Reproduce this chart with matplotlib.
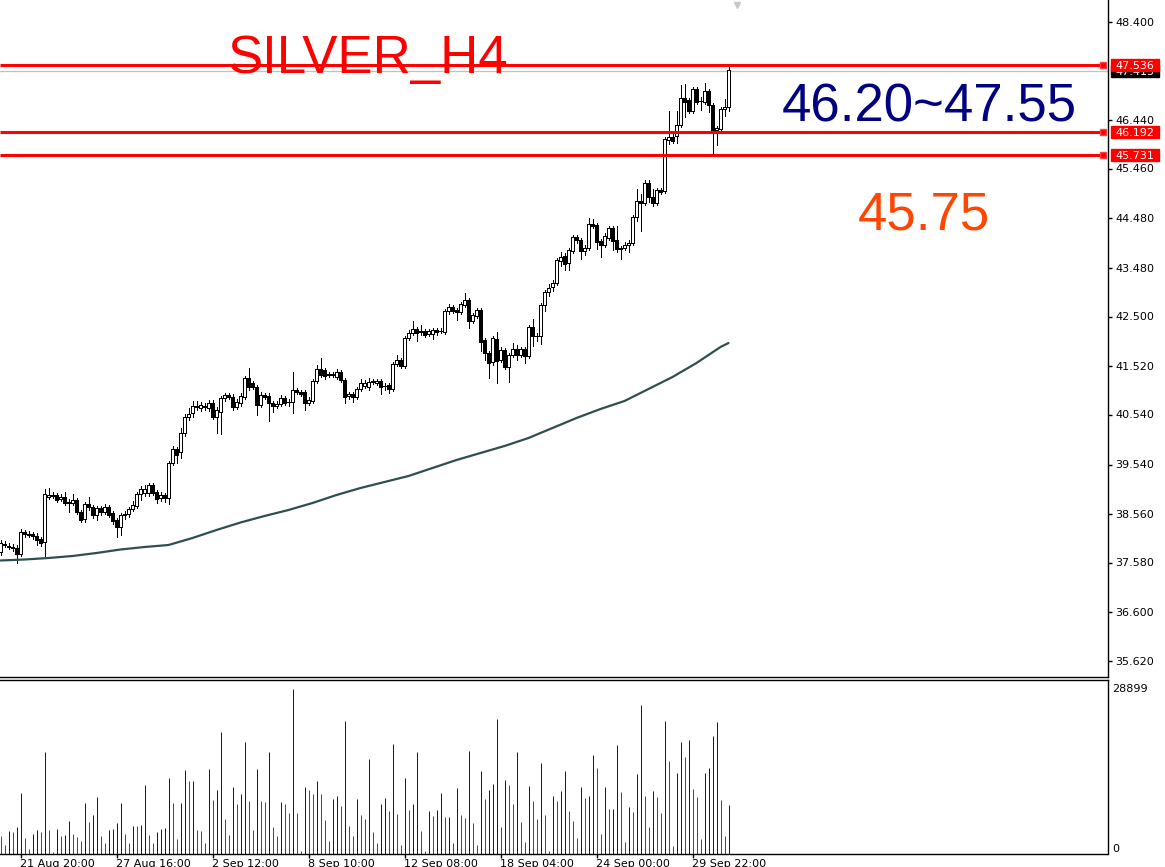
import matplotlib
matplotlib.use("Agg")
import matplotlib.pyplot as plt
import matplotlib.transforms as mtransforms
from matplotlib.patches import Rectangle
import numpy as np

# ---------------- data ----------------
opens = [37.79, 37.95, 37.92, 37.89, 37.87, 37.75, 38.19, 38.15, 38.15, 38.11,
         38.05, 37.99, 38.89, 38.93, 38.93, 38.85, 38.89, 38.79, 38.77, 38.83,
         38.59, 38.45, 38.75, 38.69, 38.53, 38.67, 38.59, 38.69, 38.57, 38.43,
         38.29, 38.54, 38.55, 38.65, 38.71, 38.95, 38.97, 38.97, 39.13, 38.99,
         38.87, 38.93, 38.87, 39.57, 39.85, 39.79, 40.17, 40.49, 40.57, 40.70,
         40.67, 40.70, 40.67, 40.77, 40.49, 40.59, 40.87, 40.93, 40.89, 40.69,
         40.77, 40.89, 41.27, 41.17, 41.09, 40.73, 40.93, 40.91, 40.77, 40.71,
         40.75, 40.87, 40.80, 40.79, 41.03, 40.99, 40.99, 40.77, 40.81, 41.21,
         41.45, 41.43, 41.34, 41.34, 41.29, 41.39, 41.23, 40.91, 40.95, 40.89,
         41.05, 41.11, 41.09, 41.20, 41.17, 41.21, 41.12, 41.13, 41.05, 41.55,
         41.63, 41.51, 42.07, 42.17, 42.25, 42.20, 42.21, 42.15, 42.15, 42.23,
         42.22, 42.19, 42.61, 42.69, 42.63, 42.59, 42.73, 42.83, 42.41, 42.51,
         42.63, 42.03, 41.77, 41.59, 42.05, 41.63, 41.83, 41.49, 41.73, 41.85,
         41.73, 41.85, 41.71, 42.29, 42.12, 42.11, 42.73, 42.99, 43.09, 43.17,
         43.61, 43.71, 43.57, 43.81, 44.09, 44.03, 43.81, 43.87, 44.35, 44.33,
         44.01, 43.93, 44.07, 44.27, 44.03, 43.87, 43.87, 43.93, 43.97, 44.49,
         44.81, 44.77, 45.17, 44.89, 44.77, 45.03, 45.01, 46.03, 46.09, 46.11,
         46.33, 46.87, 46.83, 46.61, 47.05, 46.82, 46.79, 47.01, 46.73, 46.23,
         46.25, 46.65, 46.69]

closes = [37.97, 37.93, 37.89, 37.87, 37.75, 38.19, 38.15, 38.14, 38.11, 38.03,
          37.97, 38.95, 38.93, 38.92, 38.83, 38.89, 38.77, 38.78, 38.83, 38.59,
          38.43, 38.75, 38.69, 38.53, 38.67, 38.59, 38.69, 38.53, 38.41, 38.29,
          38.53, 38.55, 38.65, 38.73, 38.95, 39.05, 39.05, 39.13, 38.97, 38.85,
          38.93, 38.87, 39.57, 39.85, 39.73, 40.17, 40.49, 40.55, 40.71, 40.69,
          40.73, 40.69, 40.77, 40.49, 40.63, 40.87, 40.93, 40.89, 40.69, 40.79,
          40.91, 41.27, 41.09, 41.09, 40.73, 40.93, 40.89, 40.77, 40.71, 40.75,
          40.87, 40.77, 40.79, 41.03, 40.99, 40.95, 40.77, 40.83, 41.21, 41.45,
          41.33, 41.31, 41.33, 41.33, 41.39, 41.23, 40.89, 40.95, 40.89, 41.05,
          41.17, 41.17, 41.19, 41.19, 41.21, 41.09, 41.11, 41.05, 41.55, 41.63,
          41.51, 42.07, 42.17, 42.25, 42.17, 42.19, 42.13, 42.21, 42.23, 42.19,
          42.21, 42.61, 42.69, 42.61, 42.59, 42.75, 42.83, 42.41, 42.53, 42.63,
          41.99, 41.77, 41.57, 42.07, 41.61, 41.83, 41.49, 41.73, 41.85, 41.73,
          41.85, 41.71, 42.29, 42.11, 42.11, 42.73, 42.99, 43.07, 43.17, 43.63,
          43.69, 43.55, 43.83, 44.09, 44.03, 43.81, 43.87, 44.35, 44.31, 43.99,
          43.93, 44.11, 44.27, 44.01, 43.85, 43.85, 43.93, 43.97, 44.49, 44.81,
          44.77, 45.17, 44.89, 44.77, 45.03, 44.99, 46.05, 46.09, 46.01, 46.33,
          46.87, 46.79, 46.61, 47.05, 46.79, 46.81, 47.01, 46.73, 46.23, 46.27,
          46.65, 46.69, 47.43]

highs = [38.03, 38.01, 37.97, 37.95, 37.93, 38.25, 38.23, 38.21, 38.19, 38.17,
         38.09, 39.05, 39.07, 38.99, 38.97, 38.95, 38.99, 38.85, 38.95, 38.87,
         38.63, 38.79, 38.89, 38.73, 38.71, 38.71, 38.75, 38.73, 38.61, 38.47,
         38.57, 38.61, 38.69, 38.81, 38.99, 39.11, 39.13, 39.17, 39.17, 39.03,
         38.99, 38.97, 39.61, 39.91, 39.89, 40.27, 40.55, 40.67, 40.81, 40.81,
         40.79, 40.77, 40.83, 40.83, 40.69, 40.91, 40.97, 40.97, 40.95, 40.85,
         40.97, 41.31, 41.47, 41.21, 41.13, 40.99, 40.97, 40.97, 40.81, 40.81,
         40.93, 40.91, 40.85, 41.39, 41.07, 41.03, 41.03, 40.89, 41.25, 41.53,
         41.67, 41.47, 41.39, 41.39, 41.45, 41.43, 41.27, 40.99, 40.99, 41.09,
         41.25, 41.23, 41.27, 41.25, 41.25, 41.25, 41.17, 41.17, 41.59, 41.73,
         41.67, 42.11, 42.23, 42.41, 42.29, 42.33, 42.25, 42.25, 42.27, 42.27,
         42.27, 42.65, 42.75, 42.73, 42.67, 42.79, 42.97, 42.87, 42.57, 42.67,
         42.67, 42.07, 41.81, 42.11, 42.19, 41.89, 41.87, 41.77, 41.97, 41.93,
         41.89, 41.89, 42.33, 42.45, 42.17, 42.77, 43.03, 43.15, 43.23, 43.67,
         43.79, 43.77, 43.87, 44.13, 44.13, 44.07, 43.93, 44.47, 44.45, 44.37,
         44.05, 44.17, 44.31, 44.31, 44.31, 43.91, 43.99, 44.03, 44.53, 45.05,
         44.95, 45.23, 45.23, 45.05, 45.07, 45.07, 46.09, 46.61, 46.15, 46.61,
         47.13, 47.15, 46.87, 47.09, 47.09, 46.89, 47.17, 47.05, 46.77, 46.31,
         46.69, 46.85, 47.54]

lows = [37.73, 37.89, 37.85, 37.81, 37.57, 37.71, 38.09, 38.09, 38.05, 37.93,
        37.91, 37.71, 38.85, 38.87, 38.79, 38.81, 38.73, 38.59, 38.73, 38.55,
        38.39, 38.39, 38.63, 38.47, 38.43, 38.53, 38.55, 38.49, 38.35, 38.09,
        38.13, 38.45, 38.49, 38.61, 38.67, 38.83, 38.91, 38.91, 38.93, 38.77,
        38.81, 38.79, 38.75, 39.53, 39.57, 39.67, 40.11, 40.43, 40.49, 40.63,
        40.61, 40.63, 40.61, 40.45, 40.17, 40.15, 40.81, 40.85, 40.63, 40.65,
        40.71, 40.85, 41.03, 41.05, 40.53, 40.69, 40.85, 40.41, 40.59, 40.67,
        40.71, 40.73, 40.71, 40.57, 40.95, 40.91, 40.63, 40.73, 40.77, 41.17,
        41.29, 41.25, 41.29, 41.29, 41.25, 41.19, 40.77, 40.85, 40.79, 40.85,
        41.01, 41.07, 41.03, 41.15, 41.13, 40.95, 41.03, 40.97, 41.01, 41.51,
        41.47, 41.47, 42.03, 42.13, 42.01, 42.13, 42.09, 42.11, 42.05, 42.13,
        42.17, 42.15, 42.55, 42.57, 42.43, 42.55, 42.69, 42.27, 42.37, 42.47,
        41.81, 41.63, 41.27, 41.53, 41.17, 41.59, 41.45, 41.19, 41.69, 41.63,
        41.69, 41.57, 41.67, 41.91, 42.01, 41.95, 42.61, 42.91, 43.01, 43.13,
        43.51, 43.43, 43.43, 43.77, 43.97, 43.65, 43.73, 43.83, 44.27, 43.85,
        43.69, 43.89, 44.03, 43.83, 43.79, 43.65, 43.83, 43.79, 43.93, 44.41,
        44.21, 44.73, 44.79, 44.71, 44.73, 44.95, 44.97, 45.95, 45.97, 45.97,
        46.29, 46.49, 46.57, 46.57, 46.75, 46.63, 46.75, 46.59, 45.77, 45.93,
        46.21, 46.51, 46.61]

volumes = [3150, 1520, 3970, 3800, 4670, 10620, 2750, 750, 3450, 4150,
           3800, 17800, 4150, 300, 4320, 3100, 3270, 5720, 3450, 2920,
           2220, 8870, 5550, 6770, 9920, 3100, 1870, 4150, 4320, 5370,
           8870, 3450, 1870, 4850, 4800, 5020, 12020, 3270, 1870, 3800,
           4320, 4500, 13250, 8870, 2570, 8870, 14650, 12720, 12800, 4150,
           3970, 1870, 14820, 9400, 11150, 21470, 6070, 3270, 11670, 8700,
           10450, 19550, 9220, 4150, 14820, 9220, 9150, 17800, 4670, 3100,
           9050, 8700, 7120, 28899, 7120, 470, 11670, 11150, 10450, 12720,
           10450, 5900, 2220, 9570, 10100, 8350, 23400, 4850, 3100, 9570,
           6770, 6070, 16570, 3800, 1870, 8700, 9750, 7470, 19370, 6950,
           1520, 13250, 7650, 8700, 17800, 3970, 470, 7470, 6600, 7650,
           10620, 6420, 6450, 1870, 11500, 6770, 6250, 17970, 5370, 1520,
           14470, 9570, 11150, 12200, 23750, 4670, 12900, 12020, 8700, 17800,
           5550, 2050, 11850, 9220, 6070, 15870, 6770, 470, 10100, 9220,
           10970, 14470, 7470, 5720, 2750, 11670, 9750, 10100, 17270, 15000,
           3450, 11670, 7820, 7850, 19020, 10800, 2050, 8170, 7300, 13950,
           26200, 10100, 4670, 10970, 9920, 7120, 23400, 16220, 1350, 14120,
           19720, 16920, 19900, 11320, 9920, 2570, 14120, 15000, 20770, 23220,
           9400, 3100, 8520]

ma_idx = [0, 6, 12, 18, 24, 30, 36, 42, 48, 54, 60, 66, 72, 78, 84, 90,
          96, 102, 108, 114, 120, 126, 132, 138, 144, 150, 156, 162, 168,
          174, 180, 182]
ma_vals = [37.62, 37.64, 37.67, 37.71, 37.77, 37.84, 37.89, 37.93, 38.07,
           38.23, 38.38, 38.51, 38.63, 38.77, 38.93, 39.07, 39.19, 39.31,
           39.47, 39.63, 39.77, 39.91, 40.07, 40.27, 40.47, 40.65, 40.81,
           41.05, 41.29, 41.57, 41.89, 41.97]

level_prices = [47.536, 46.192, 45.731]
level_labels = ["47.536", "46.192", "45.731"]
bid_price = 47.415
bid_label = "47.415"

price_ticks = [48.400, 46.440, 45.460, 44.480, 43.480, 42.500, 41.520,
               40.540, 39.540, 38.560, 37.580, 36.600, 35.620]
vol_max_label = "28899"

date_tick_idx = [5, 29, 53, 77, 101, 125, 149, 173]
date_labels = ["21 Aug 20:00", "27 Aug 16:00", "2 Sep 12:00", "8 Sep 10:00",
               "12 Sep 08:00", "18 Sep 04:00", "24 Sep 00:00", "29 Sep 22:00"]

title_text = "SILVER_H4"
range_text = "46.20~47.55"
level_text = "45.75"

# ---------------- figure ----------------
W, H = 1165, 867
fig = plt.figure(figsize=(W / 100, H / 100), dpi=100)
fig.patch.set_facecolor("white")

right_px = 1108
ax = fig.add_axes([0, 1 - 677 / H, right_px / W, 677 / H])
axv = fig.add_axes([0, 1 - 853.7 / H, right_px / W, (853.7 - 680) / H])

# 4 px per bar, bar centres on pixel centres
xlim = (-0.125, 276.875)
for a in (ax, axv):
    a.set_xlim(*xlim)
    a.set_facecolor("white")

ax.set_ylim(35.29, 48.83)
axv.set_ylim(0, 30533)

o = np.array(opens)
c = np.array(closes)
hi = np.array(highs)
lo = np.array(lows)
idx = np.arange(len(o))
up = c >= o

# wicks
ax.vlines(idx, lo, hi, color="black", lw=0.5, zorder=2, antialiased=False)
body_bot = np.minimum(o, c)
body_h = np.maximum(np.abs(c - o), 0.004)
ax.bar(idx[up], body_h[up], bottom=body_bot[up], width=0.55,
       facecolor="white", edgecolor="black", linewidth=0.5, zorder=3,
       antialiased=False)
ax.bar(idx[~up], body_h[~up], bottom=body_bot[~up], width=0.55,
       facecolor="black", edgecolor="black", linewidth=0.5, zorder=3,
       antialiased=False)

# moving average
ax.plot(ma_idx, ma_vals, color="#2F4F4F", lw=1.6, zorder=2,
        solid_capstyle="round")

# bid line (grey)
ax.axhline(bid_price, color="#C0C0C0", lw=0.9, zorder=1)

# red level lines
x_end = (1103 - 0.5) / 4
for p in level_prices:
    ax.hlines(p, xlim[0], x_end, color="red", lw=2.2, zorder=4)
    ax.plot([x_end], [p], marker="s", ms=4.5, mfc="red", mec="#FF4040",
            zorder=5, clip_on=False)

# right-side price labels
trans = mtransforms.blended_transform_factory(fig.transFigure, ax.transData)
box_x0 = 1110.5 / W
box_w = 48 / W
box_h = 12.3 / 50.0


def price_box(p, txt, color, z, clip_top=None):
    ax.add_patch(Rectangle((box_x0, p - box_h / 2), box_w, box_h,
                           transform=trans, facecolor=color, edgecolor=color,
                           clip_on=False, zorder=z))
    t = ax.text(box_x0 + box_w / 2, p, txt, transform=trans, ha="center",
                va="center_baseline", color="white", fontsize=8,
                family="DejaVu Sans", clip_on=False, zorder=z + 1)
    if clip_top is not None:
        clip = Rectangle((box_x0, p - box_h / 2), box_w,
                         clip_top - (p - box_h / 2), transform=trans)
        t.set_clip_path(clip)
        t.set_clip_on(True)


# the bid label sits mostly hidden under the top red label
price_box(bid_price, bid_label, "black", 20,
          clip_top=level_prices[0] - box_h / 2)
for p, t in zip(level_prices, level_labels):
    price_box(p, t, "red", 30)

# axes styling main
ax.yaxis.tick_right()
ax.set_yticks(price_ticks)
ax.set_yticklabels([f"{v:.3f}" for v in price_ticks])
ax.tick_params(axis="y", direction="out", length=3, width=1, pad=2,
               labelsize=8, colors="black")
ax.set_xticks([])
for s in ("top", "left"):
    ax.spines[s].set_visible(False)
ax.spines["right"].set_linewidth(1)
ax.spines["bottom"].set_linewidth(1)

# small grey shift triangle at top
tri_trans = mtransforms.blended_transform_factory(ax.transData, ax.transAxes)
ax.plot([(737 - 0.5) / 4], [1 - 5 / 677], marker="v", ms=5, color="#C8C8C8",
        transform=tri_trans, clip_on=False, zorder=6)

# ---------------- volume ----------------
v = np.array(volumes, dtype=float)
vcol = ["#FF0000"] + ["#0000FF" if v[i] > v[i - 1] else "#FF0000"
                      for i in range(1, len(v))]
axv.vlines(idx, 0, v, colors=vcol, lw=0.72, zorder=2, antialiased=True,
           snap=True)
axv.set_yticks([])
axv.spines["left"].set_visible(False)
axv.spines["right"].set_linewidth(1)
axv.spines["top"].set_linewidth(1)
axv.spines["bottom"].set_linestyle((0, (2, 1)))
axv.spines["bottom"].set_linewidth(1)
axv.set_xticks(date_tick_idx)
axv.set_xticklabels(date_labels, ha="left", fontsize=8)
axv.tick_params(axis="x", direction="out", length=3, width=1, pad=1)

tv = mtransforms.blended_transform_factory(axv.transAxes, axv.transData)
axv.text(1.004, 28899, vol_max_label, transform=tv, ha="left", va="center",
         fontsize=8, clip_on=False)
axv.text(1.004, 0, "0", transform=tv, ha="left", va="bottom",
         fontsize=8, clip_on=False)

# ---------------- annotations ----------------
fig.text(228 / W, 1 - 73 / H, title_text, color="red", fontsize=38,
         family="Liberation Sans", ha="left", va="baseline")
fig.text(782 / W, 1 - 122 / H, range_text, color="#000080", fontsize=38,
         family="Liberation Sans", ha="left", va="baseline")
fig.text(858 / W, 1 - 230 / H, level_text, color="#FF4500", fontsize=38,
         family="Liberation Sans", ha="left", va="baseline")

fig.savefig("out.png", dpi=100, facecolor="white")
